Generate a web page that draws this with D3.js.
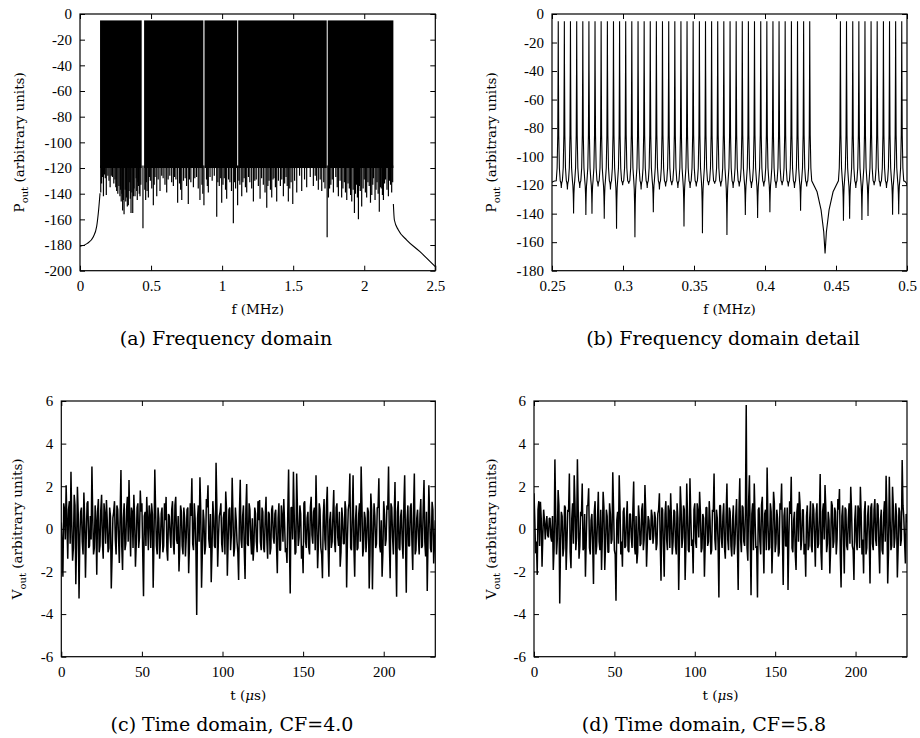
<!DOCTYPE html>
<html>
	<meta charset="utf-8" />
	<style>
		html,
		body {
			margin: 0px;
			padding: 0px;
			background: #fff;
		}
		svg {
			display: block;
		}
		text {
			font-family: "Liberation Serif", serif;
			fill: #000;
		}
		.tick text {
			font-size: 15px;
		}
		.tick line {
			stroke: #000;
		}
		.frame {
			fill: none;
			stroke: #000;
			stroke-width: 1.2px;
		}
		.title {
			font-family: "DejaVu Serif", serif;
			font-size: 13.5px;
		}
		.caption {
			font-family: "DejaVu Serif", serif;
			font-size: 19px;
		}
	</style>
	<svg width="920" height="738"></svg>
	<script src="https://d3js.org/d3.v7.min.js"></script>
	<script>
		// (a) frequency domain: tone blocks, floor, dips below the floor, out-of-band skirts
		var bandsA = [
			[0.141, 0.434],
			[0.451, 0.868],
			[0.876, 1.106],
			[1.113, 1.736],
			[1.743, 2.205],
		];
		var peakLevelA = -5;
		var floorA = -120;
		var dipsA = [
			[0.146, -139], [0.152, -132], [0.158, -127], [0.165, -142], [0.172, -125], [0.178, -128], [0.185, -141], [0.196, -126],
			[0.204, -130], [0.212, -135], [0.22, -126], [0.228, -127], [0.238, -132], [0.246, -129], [0.252, -135], [0.258, -138],
			[0.266, -140], [0.274, -134], [0.281, -142], [0.286, -137], [0.29, -146], [0.295, -140], [0.3, -153], [0.305, -145],
			[0.31, -156], [0.318, -137], [0.322, -146], [0.327, -143], [0.333, -150], [0.34, -149], [0.345, -138], [0.35, -131],
			[0.354, -144], [0.359, -155], [0.365, -139], [0.371, -155], [0.376, -142], [0.38, -136], [0.387, -142], [0.395, -128],
			[0.399, -138], [0.403, -145], [0.408, -131], [0.412, -134], [0.417, -140], [0.422, -142], [0.428, -133], [0.443, -167],
			[0.456, -137], [0.462, -145], [0.467, -131], [0.472, -138], [0.481, -143], [0.488, -127], [0.495, -130], [0.505, -136],
			[0.516, -149], [0.522, -133], [0.528, -127], [0.54, -142], [0.55, -129], [0.563, -138], [0.575, -126], [0.585, -128],
			[0.598, -133], [0.61, -139], [0.62, -129], [0.632, -126], [0.645, -131], [0.657, -134], [0.665, -127], [0.675, -129],
			[0.687, -147], [0.7, -132], [0.708, -137], [0.716, -145], [0.728, -130], [0.74, -128], [0.75, -134], [0.762, -148],
			[0.77, -129], [0.78, -131], [0.798, -135], [0.808, -128], [0.82, -127], [0.832, -136], [0.844, -145], [0.858, -133],
			[0.864, -140], [0.872, -149], [0.89, -129], [0.896, -134], [0.903, -139], [0.915, -127], [0.93, -130], [0.945, -126],
			[0.962, -158], [0.97, -131], [0.98, -134], [0.99, -128], [0.997, -147], [1.006, -133], [1.015, -128], [1.024, -137],
			[1.032, -144], [1.045, -129], [1.055, -131], [1.066, -138], [1.079, -163], [1.088, -131], [1.095, -136], [1.109, -149],
			[1.118, -130], [1.125, -133], [1.138, -142], [1.146, -131], [1.155, -128], [1.164, -135], [1.173, -139], [1.185, -127],
			[1.195, -131], [1.208, -136], [1.22, -146], [1.23, -130], [1.24, -129], [1.255, -134], [1.267, -144], [1.278, -128],
			[1.29, -133], [1.302, -139], [1.314, -151], [1.322, -134], [1.33, -130], [1.34, -137], [1.349, -143], [1.358, -129],
			[1.365, -128], [1.375, -135], [1.384, -146], [1.396, -130], [1.41, -134], [1.42, -129], [1.431, -142], [1.44, -132],
			[1.45, -127], [1.458, -134], [1.466, -146], [1.476, -136], [1.485, -131], [1.497, -148], [1.51, -130], [1.525, -139],
			[1.545, -126], [1.56, -138], [1.58, -129], [1.595, -135], [1.62, -127], [1.642, -134], [1.655, -126], [1.665, -130],
			[1.677, -137], [1.69, -129], [1.701, -138], [1.715, -131], [1.724, -136], [1.739, -174], [1.748, -143], [1.756, -136],
			[1.765, -133], [1.775, -129], [1.783, -139], [1.8, -127], [1.81, -135], [1.818, -142], [1.83, -130], [1.841, -143],
			[1.85, -136], [1.86, -131], [1.868, -139], [1.877, -145], [1.886, -132], [1.895, -136], [1.904, -141], [1.912, -146],
			[1.922, -137], [1.931, -155], [1.938, -140], [1.945, -133], [1.952, -143], [1.959, -160], [1.966, -134], [1.972, -138],
			[1.982, -150], [1.992, -136], [2.0, -129], [2.008, -139], [2.017, -143], [2.026, -131], [2.035, -134], [2.044, -147],
			[2.053, -141], [2.06, -133], [2.065, -128], [2.076, -145], [2.083, -137], [2.09, -131], [2.098, -140], [2.106, -154],
			[2.114, -135], [2.12, -136], [2.128, -141], [2.135, -145], [2.143, -132], [2.15, -129], [2.16, -137], [2.17, -142],
			[2.178, -130], [2.185, -133], [2.193, -139], [2.2, -131],
		];
		var skirtLeftA = [[0, -181], [0.052, -178.7], [0.094, -173.5], [0.117, -165.7], [0.131, -152.7], [0.141, -139.7]];
		var skirtRightA = [[2.205, -148], [2.212, -160.5], [2.24, -168.3], [2.299, -176.1], [2.392, -185.2], [2.5, -196.9]];

		// (b) detail: tone peaks (first and last lie just outside the view) and the trough between each pair
		var peaksB = [
			0.2457, 0.2544, 0.2587, 0.263, 0.2674, 0.2717, 0.276, 0.2803, 0.2846, 0.289, 0.2933, 0.2976, 0.3019, 0.3062, 0.3106,
			0.3149, 0.3192, 0.3235, 0.3278, 0.3322, 0.3365, 0.3408, 0.3451, 0.3494, 0.3538, 0.3581, 0.3624, 0.3667, 0.371, 0.3754,
			0.3797, 0.384, 0.3883, 0.3926, 0.397, 0.4013, 0.4056, 0.4099, 0.4142, 0.4186, 0.4229, 0.4272, 0.4315, 0.4531, 0.4574,
			0.4618, 0.4661, 0.4704, 0.4747, 0.479, 0.4834, 0.4877, 0.492, 0.4963, 0.5037,
		];
		var troughsB = [
			-118, -122, -123, -139.8, -122, -141, -140, -121, -143.5, -123, -150.5, -120, -119, -156.6, -123, -122, -139, -123,
			-121, -120, -122, -149, -122, -121, -153.8, -120, -119, -121, -155, -122, -121, -141, -122, -143, -121, -139, -122,
			-120, -121, -122, -138, -121, -168, -145, -143.5, -122, -144.5, -141.6, -120, -121, -122, -140.7, -140.5, -120,
		];
		var peakLevelB = -5;

		// (c), (d) time domain: samples on whole microseconds and the samples half a microsecond later
		var voutC = [
			0.3, -2.25, 0.9, 2.05, -1.4, 1.3, 2.68, -1.5, 1.6, -2.6,
			1.98, -3.27, 0.8, -0.6, 1.7, -2.3, 1.2, -0.9, 0.6, 2.92,
			-1.2, 1.1, -2.15, 1.4, -0.8, 1.6, -1.4, 0.7, 1.35, -1.1,
			1.0, -2.8, 0.5, 1.3, -1.2, 0.9, -1.6, 2.76, -1.93, 1.2,
			-0.7, 1.5, 2.29, -1.3, 0.8, 1.6, -1.78, 1.0, -0.9, 1.8,
			1.2, -3.16, 0.8, 1.5, -1.0, 0.6, 1.2, -2.76, 2.79, -0.8,
			1.0, -1.4, 0.7, -1.1, 1.2, 1.5, -1.5, 0.6, -0.9, 1.3,
			-1.2, 1.5, -0.7, -2.0, 1.1, -0.8, 1.0, -1.3, 0.9, -2.08,
			1.2, 2.37, -1.0, 0.5, -4.04, 1.1, 2.42, -2.76, 0.9, -1.2,
			1.4, 2.05, -0.9, -2.5, 1.3, -0.8, 3.1, -1.78, 0.6, 1.2,
			-1.1, 0.8, 1.75, -2.2, 0.9, -1.0, 2.4, -1.3, 1.0, -0.6,
			-2.4, 2.3, -0.9, 1.1, -2.35, 2.1, -0.8, 0.9, -1.2, -1.5,
			1.0, -0.6, 1.3, 1.35, -1.0, 0.8, -1.1, 1.5, -1.4, 0.7,
			-0.9, 1.1, -0.7, 0.9, -2.08, 1.2, -1.0, 0.6, 1.4, -1.1,
			-1.6, 2.79, -3.03, 1.0, 2.68, -1.2, 2.6, -0.8, 1.1, -1.4,
			-2.08, 1.3, -0.9, 0.8, -1.2, 1.5, -0.7, 1.0, 2.52, -1.85,
			1.2, -0.9, -2.32, 1.4, -1.0, 1.98, -2.25, 0.8, -0.6, 1.82,
			-1.1, 1.2, -0.8, -1.78, 1.0, -0.7, 1.3, -2.75, 0.9, 2.6,
			-1.0, 2.52, -2.25, 1.1, -0.9, 1.2, 2.92, -1.3, 0.8, -1.1,
			1.0, -2.8, 1.66, -2.84, 1.2, -0.9, 1.0, 2.37, -1.1, -2.25,
			1.3, -0.8, 1.1, 2.92, -2.32, 1.0, -1.2, 2.2, -3.19, 1.3,
			-1.0, 0.9, -1.4, 2.52, -3.0, 1.1, -0.8, 1.2, -1.93, 2.6,
			-1.0, 0.9, -1.2, 1.4, -0.8, 2.29, -1.3, -2.92, 2.05, -0.9,
			1.27, -1.62, 0.4,
		];
		var voutCHalf = [
			-0.8, 1.2, -0.5, 0.4, 0.9, -0.7, 0.3, -0.9, 1.1, -0.6,
			0.7, -0.4, 1.0, -1.2, 0.5, -0.3, 1.3, -0.8, -0.5, 0.6,
			-0.9, 0.4, 0.8, -1.1, 0.9, -0.6, 1.2, -0.7, 0.4, -0.9,
			0.6, -1.3, 0.8, -0.5, 1.1, -0.4, 0.7, -0.8, 0.5, -1.0,
			0.9, -0.6, 0.3, 1.0, -0.9, 0.5, -0.7, 1.2, -0.4, 0.8,
			-1.1, 0.6, -0.8, 0.4, 1.1, -0.9, 0.7, -0.5, 0.9, -1.2,
			0.5, -0.6, 1.0, -0.8, 0.4, -1.0, 0.7, -0.3, 0.9, -0.7,
			1.1, -0.5, 0.6, -0.9, 0.8, -1.2, 0.5, -0.4, 1.0, -0.8,
			0.6, -0.7, 1.2, -0.9, 0.5, -0.6, 0.9, -1.1, 0.4, -0.8,
			1.0, -0.5, 0.7, -1.0, 0.6, -0.9, 1.1, -0.4, 0.8, -0.7,
			0.5, -1.2, 0.9, -0.6, 1.0, -0.3, 0.7, -0.9, 0.4, -1.1,
			0.8, -0.5, 0.6, -1.0, 0.9, -0.7, 1.2, -0.4, 0.5, -0.8,
			0.7, -1.1, 0.4, -0.6, 1.0, -0.9, 0.6, -0.5, 0.8, -1.2,
			0.9, -0.4, 0.7, -0.8, 0.5, -1.0, 1.1, -0.6, 0.3, -0.9,
			0.8, -0.7, 1.0, -0.5, 0.6, -1.1, 0.9, -0.4, 0.7, -0.8,
			1.2, -0.6, 0.5, -0.9, 1.0, -0.3, 0.8, -1.0, 0.4, -0.7,
			0.9, -1.2, 0.6, -0.5, 1.1, -0.8, 0.4, -0.9, 0.7, -0.6,
			1.0, -0.4, 0.8, -1.1, 0.5, -0.7, 0.9, -0.5, 1.2, -0.9,
			0.6, -0.8, 0.4, -1.0, 0.7, -0.6, 1.1, -0.9, 0.5, -0.4,
			0.8, -1.2, 0.9, -0.5, 0.6, -0.7, 1.0, -0.8, 0.4, -1.1,
			0.7, -0.5, 0.9, -0.6, 1.2, -0.4, 0.5, -1.0, 0.8, -0.9,
			0.6, -0.7, 1.1, -0.5, 0.4, -0.8, 1.0, -0.6, 0.9, -1.2,
			0.5, -0.4, 0.7, -0.9, 1.0, -0.6, 0.8, -0.5, 0.6, -1.1,
			0.9, -0.7,
		];
		var voutD = [
			1.67, -1.15, -2.16, 1.3, 1.27, -1.78, 0.9, -0.5, 0.6, -0.4,
			0.5, -0.6, -1.93, 3.26, -1.2, 1.82, -3.5, 0.8, -1.3, 1.1,
			-1.93, 0.9, 2.6, -1.85, 1.2, 2.52, -1.0, 3.27, -1.4, 0.8,
			2.13, -0.9, -2.25, 1.1, 1.9, -1.2, 0.7, -2.59, 1.3, -0.8,
			1.74, -1.0, -1.93, 1.74, -1.93, 0.9, -1.1, 1.2, -0.7, 2.65,
			-1.0, -3.37, 0.8, 2.52, -1.2, -1.78, 1.0, -0.8, 1.3, -1.1,
			0.7, -0.9, 2.22, -1.2, -1.62, 1.1, -0.8, 0.9, -1.0, 2.06,
			-1.78, 0.6, -0.5, 0.9, -0.7, 0.8, -1.0, 0.7, 1.67, -2.44,
			0.9, -2.25, 1.3, -1.0, 0.8, 1.67, -1.2, 0.9, -0.8, 1.2,
			-2.87, 2.0, -0.9, 1.1, -2.4, 2.13, -1.0, 2.37, -0.8, -2.09,
			1.2, -0.9, 0.8, 1.74, -1.1, 0.7, -2.25, 1.0, -0.8, 1.3,
			-1.2, 0.9, 2.6, -1.0, 0.5, -3.22, 1.1, -0.9, 1.2, -1.4,
			2.13, -1.0, 0.8, -1.3, 1.1, -0.7, 1.4, -2.87, 2.37, -1.1,
			1.0, -0.8, 5.81, -1.5, 2.52, -3.11, 1.2, 2.13, -0.9, -3.22,
			1.0, -1.2, 1.5, -2.09, 0.9, 2.88, -1.0, 1.2, -2.09, 1.74,
			-1.1, 0.9, -1.3, 1.2, 2.13, -2.64, 1.0, -0.8, -2.87, 1.3,
			2.45, -1.1, 0.8, -1.93, 1.2, 1.74, -1.0, 0.9, -1.2, -2.25,
			1.1, -0.8, 1.3, -1.1, 0.9, -1.78, 1.2, -0.7, 2.57, -1.93,
			1.2, 2.06, -1.1, 0.8, -2.09, 1.3, -0.9, 1.0, -1.2, 1.4,
			1.87, -2.75, 1.1, -2.09, 0.9, -1.0, 1.2, 1.98, -0.8, -2.4,
			1.1, -1.0, 0.9, 1.98, -1.2, -2.09, 1.3, -0.9, 1.1, -2.56,
			1.2, -1.0, 1.4, -0.8, 1.1, -2.09, 0.9, -1.2, 1.3, 2.49,
			-2.56, 2.45, -1.0, 1.98, -0.9, 1.2, -2.28, 1.0, -0.8, 3.23,
			0.57, -1.62, 0.3,
		];
		var voutDHalf = [
			0.4, -0.6, 0.9, -0.8, 0.5, -0.3, 0.4, 0.2, -0.3, 0.5,
			-0.4, 0.6, -0.9, 0.7, -0.5, 1.1, -0.8, 0.6, -0.9, 1.0,
			-0.6, 0.8, -1.1, 0.5, -0.7, 1.2, -0.4, 0.9, -0.8, 0.6,
			-1.0, 0.7, -0.5, 1.1, -0.9, 0.4, -0.7, 0.8, -1.2, 0.5,
			-0.6, 0.9, -0.4, 1.0, -0.8, 0.6, -1.1, 0.7, -0.5, 0.9,
			-1.2, 0.4, -0.7, 1.0, -0.6, 0.8, -0.9, 0.5, -1.0, 0.7,
			-0.4, 0.9, -0.8, 0.6, -1.1, 0.5, -0.7, 1.2, -0.5, 0.8,
			-0.6, 0.4, -0.5, 0.6, -0.3, 0.5, -0.7, 0.9, -0.6, 1.0,
			-0.8, 0.7, -0.5, 1.1, -0.9, 0.4, -0.6, 0.8, -1.2, 0.5,
			-0.7, 1.0, -0.4, 0.9, -0.8, 0.6, -1.1, 0.7, -0.5, 0.9,
			-0.6, 1.2, -0.4, 0.8, -0.9, 0.5, -0.7, 1.0, -0.6, 0.4,
			-1.0, 0.8, -0.5, 0.9, -0.7, 1.1, -0.4, 0.6, -0.9, 0.7,
			-0.5, 1.0, -0.8, 0.4, -1.2, 0.6, -0.7, 0.9, -0.5, 1.1,
			-0.6, 0.8, -0.9, 1.3, -0.4, 0.7, -1.0, 0.5, -0.8, 0.9,
			-0.6, 1.1, -0.5, 0.7, -1.0, 0.4, -0.9, 0.8, -0.6, 1.2,
			-0.7, 0.5, -1.1, 0.9, -0.4, 0.6, -0.8, 1.0, -0.5, 0.7,
			-0.9, 0.4, -1.2, 0.8, -0.6, 1.1, -0.5, 0.9, -0.7, 0.6,
			-1.0, 0.5, -0.8, 1.2, -0.4, 0.7, -0.9, 0.6, -1.1, 0.8,
			-0.5, 1.0, -0.7, 0.4, -0.9, 1.1, -0.6, 0.8, -0.5, 0.9,
			-1.2, 0.6, -0.4, 1.0, -0.8, 0.5, -0.7, 0.9, -1.0, 0.4,
			-0.6, 1.1, -0.9, 0.7, -0.5, 0.8, -1.2, 0.6, -0.4, 1.0,
			-0.7, 0.9, -0.5, 1.2, -0.8, 0.4, -1.0, 0.7, -0.6, 0.9,
			-1.1, 0.5, -0.8, 1.0, -0.4, 0.6, -0.9, 0.8, -0.5, 1.1,
			-0.6, 0.7,
		];

		var xTicksA = [0, 0.5, 1, 1.5, 2, 2.5];
		var yTicksA = [0, -20, -40, -60, -80, -100, -120, -140, -160, -180, -200];
		var xTicksB = [0.25, 0.3, 0.35, 0.4, 0.45, 0.5];
		var yTicksB = [0, -20, -40, -60, -80, -100, -120, -140, -160, -180];
		var xTicksT = [0, 50, 100, 150, 200];
		var yTicksT = [-6, -4, -2, 0, 2, 4, 6];

		var svg = d3.select("svg");
		var fmt = function (d) {
			return String(d);
		};

		function panel(box, xDomain, yDomain, xTicks, yTicks, yVar, xTitle, caption) {
			var x = d3.scaleLinear().domain(xDomain).range([box.left, box.right]);
			var y = d3.scaleLinear().domain(yDomain).range([box.bottom, box.top]);

			svg.append("clipPath")
				.attr("id", "clip-" + box.id)
				.append("rect")
				.attr("x", box.left)
				.attr("y", box.top)
				.attr("width", box.right - box.left)
				.attr("height", box.bottom - box.top);

			var plot = svg.append("g").attr("clip-path", "url(#clip-" + box.id + ")");
			var axes = svg.append("g");

			axes.append("g")
				.attr("transform", "translate(0," + box.bottom + ")")
				.call(d3.axisBottom(x).tickValues(xTicks).tickFormat(fmt).tickSizeInner(-5).tickSizeOuter(0).tickPadding(10));
			axes.append("g")
				.attr("transform", "translate(0," + box.top + ")")
				.call(d3.axisTop(x).tickValues(xTicks).tickFormat("").tickSizeInner(-5).tickSizeOuter(0));
			axes.append("g")
				.attr("transform", "translate(" + box.left + ",0)")
				.call(d3.axisLeft(y).tickValues(yTicks).tickFormat(fmt).tickSizeInner(-5).tickSizeOuter(0).tickPadding(8));
			axes.append("g")
				.attr("transform", "translate(" + box.right + ",0)")
				.call(d3.axisRight(y).tickValues(yTicks).tickFormat("").tickSizeInner(-5).tickSizeOuter(0));
			axes.selectAll(".domain").remove();
			axes.selectAll(".tick text").attr("font-family", null).attr("font-size", null).attr("fill", null);

			axes.append("rect")
				.attr("class", "frame")
				.attr("x", box.left)
				.attr("y", box.top)
				.attr("width", box.right - box.left)
				.attr("height", box.bottom - box.top);

			var cy = (box.top + box.bottom) / 2;
			var yt = axes.append("text")
				.attr("class", "title")
				.attr("text-anchor", "middle")
				.attr("transform", "translate(" + box.yTitleX + "," + cy + ") rotate(-90)");
			yt.append("tspan").text(yVar);
			yt.append("tspan").attr("font-size", "10px").attr("dy", 4).text("out");
			yt.append("tspan").attr("dy", -4).text(" (arbitrary units)");

			var xt = axes.append("text")
				.attr("class", "title")
				.attr("text-anchor", "middle")
				.attr("x", (box.left + box.right) / 2)
				.attr("y", box.bottom + 43);
			xTitle.forEach(function (p) {
				xt.append("tspan").attr("font-style", p.italic ? "italic" : null).text(p.text);
			});

			axes.append("text")
				.attr("class", "caption")
				.attr("text-anchor", "middle")
				.attr("x", box.captionX)
				.attr("y", box.bottom + 74)
				.text(caption);

			return { x: x, y: y, plot: plot };
		}

		var boxA = { id: "a", left: 80, right: 435.3, top: 14, bottom: 270.7, yTitleX: 24, captionX: 226 };
		var boxB = { id: "b", left: 552, right: 907, top: 14, bottom: 270.7, yTitleX: 496, captionX: 723 };
		var boxC = { id: "c", left: 61.3, right: 435.3, top: 401, bottom: 656.7, yTitleX: 22, captionX: 232 };
		var boxD = { id: "d", left: 534, right: 907, top: 401, bottom: 656.7, yTitleX: 496, captionX: 704 };

		var fTitle = [{ text: "f (MHz)" }];
		var tTitle = [{ text: "t (" }, { text: "μ", italic: true }, { text: "s)" }];

		// ---- (a)
		var pa = panel(boxA, [0, 2.5], [-200, 0], xTicksA, yTicksA, "P", fTitle, "(a) Frequency domain");
		pa.plot
			.selectAll("rect.band")
			.data(bandsA)
			.enter()
			.append("rect")
			.attr("class", "band")
			.attr("x", function (d) {
				return pa.x(d[0]);
			})
			.attr("width", function (d) {
				return pa.x(d[1]) - pa.x(d[0]);
			})
			.attr("y", pa.y(peakLevelA))
			.attr("height", pa.y(floorA) - pa.y(peakLevelA))
			.attr("fill", "#000");
		pa.plot
			.selectAll("line.dip")
			.data(dipsA)
			.enter()
			.append("line")
			.attr("class", "dip")
			.attr("x1", function (d) {
				return pa.x(d[0]);
			})
			.attr("x2", function (d) {
				return pa.x(d[0]);
			})
			.attr("y1", pa.y(floorA + 2))
			.attr("y2", function (d) {
				return pa.y(d[1]);
			})
			.attr("stroke", "#000")
			.attr("stroke-width", 1.2);
		var lineA = d3
			.line()
			.x(function (d) {
				return pa.x(d[0]);
			})
			.y(function (d) {
				return pa.y(d[1]);
			})
			.curve(d3.curveMonotoneX);
		[skirtLeftA, skirtRightA].forEach(function (s) {
			pa.plot.append("path").attr("d", lineA(s)).attr("fill", "none").attr("stroke", "#000").attr("stroke-width", 1.1);
		});

		// ---- (b)
		var pb = panel(boxB, [0.25, 0.5], [-180, 0], xTicksB, yTicksB, "P", fTitle, "(b) Frequency domain detail");
		// each tone: steep skirts from the peak, then a bowl (or a sharp null) at the trough level
		var ptsB = [];
		var sideOff = [0.00012, 0.00035, 0.0008, 0.0014];
		var sideVal = [-40, -85, -108, -117];
		var bowlK = [0.6, 0.3, 0.1];
		var bowlG = [0.15, 0.4, 0.7];
		for (var i = 0; i < peaksB.length - 1; i++) {
			var p0 = peaksB[i],
				p1 = peaksB[i + 1],
				d = troughsB[i],
				m = (p0 + p1) / 2,
				h = Math.max((p1 - p0) / 2 - 0.0014, 0.0003);
			ptsB.push([p0, peakLevelB]);
			sideOff.forEach(function (o, j) {
				ptsB.push([p0 + o, sideVal[j]]);
			});
			bowlK.forEach(function (k, j) {
				ptsB.push([m - k * h, -117 + (d + 117) * bowlG[j]]);
			});
			ptsB.push([m, d]);
			bowlK.slice().reverse().forEach(function (k, j) {
				ptsB.push([m + k * h, -117 + (d + 117) * bowlG[2 - j]]);
			});
			sideOff.slice().reverse().forEach(function (o, j) {
				ptsB.push([p1 - o, sideVal[3 - j]]);
			});
		}
		ptsB.push([peaksB[peaksB.length - 1], peakLevelB]);
		pb.plot
			.append("path")
			.datum(ptsB)
			.attr("fill", "none")
			.attr("stroke", "#000")
			.attr("stroke-width", 1.1)
			.attr(
				"d",
				d3
					.line()
					.x(function (d) {
						return pb.x(d[0]);
					})
					.y(function (d) {
						return pb.y(d[1]);
					})
			);

		// ---- (c), (d)
		function timeTrace(p, whole, half) {
			var pts = [];
			whole.forEach(function (v, i) {
				pts.push([i, v]);
				if (i < half.length) pts.push([i + 0.5, half[i]]);
			});
			p.plot
				.append("path")
				.datum(pts)
				.attr("fill", "none")
				.attr("stroke", "#000")
				.attr("stroke-width", 1.5)
				.attr("stroke-linejoin", "bevel")
				.attr(
					"d",
					d3
						.line()
						.x(function (d) {
							return p.x(d[0]);
						})
						.y(function (d) {
							return p.y(d[1]);
						})
				);
		}
		var pc = panel(boxC, [0, 232], [-6, 6], xTicksT, yTicksT, "V", tTitle, "(c) Time domain, CF=4.0");
		timeTrace(pc, voutC, voutCHalf);
		var pd = panel(boxD, [0, 232], [-6, 6], xTicksT, yTicksT, "V", tTitle, "(d) Time domain, CF=5.8");
		timeTrace(pd, voutD, voutDHalf);
	</script>
</html>
